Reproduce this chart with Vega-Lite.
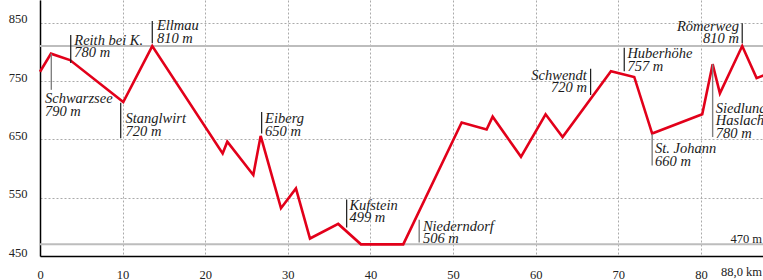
{
  "$schema": "https://vega.github.io/schema/vega-lite/v6.json",
  "autosize": "none",
  "width": 727,
  "height": 256,
  "padding": {"left": 40, "top": 0, "right": 0, "bottom": 24},
  "background": "white",
  "config": {"view": {"stroke": null}, "font": "Liberation Serif"},
  "datasets": {
    "profile": [
      {"km": 0, "elev": 766},
      {"km": 1.33, "elev": 797},
      {"km": 3.63, "elev": 786},
      {"km": 10.08, "elev": 714},
      {"km": 13.59, "elev": 810},
      {"km": 22.11, "elev": 626},
      {"km": 22.67, "elev": 646},
      {"km": 25.82, "elev": 589},
      {"km": 26.71, "elev": 656},
      {"km": 29.17, "elev": 532},
      {"km": 30.98, "elev": 566},
      {"km": 32.68, "elev": 480},
      {"km": 36.1, "elev": 505},
      {"km": 38.85, "elev": 470},
      {"km": 43.97, "elev": 470},
      {"km": 51.04, "elev": 679},
      {"km": 54.06, "elev": 667},
      {"km": 54.79, "elev": 689},
      {"km": 58.22, "elev": 620},
      {"km": 61.2, "elev": 693},
      {"km": 63.26, "elev": 654},
      {"km": 69.11, "elev": 767},
      {"km": 71.93, "elev": 757},
      {"km": 74.1, "elev": 660},
      {"km": 80.16, "elev": 693},
      {"km": 81.42, "elev": 779},
      {"km": 82.3, "elev": 729},
      {"km": 85.0, "elev": 810},
      {"km": 86.74, "elev": 755},
      {"km": 88.0, "elev": 762}
    ],
    "refs": [{"elev": 810, "label": ""}, {"elev": 470, "label": "470 m"}],
    "ends": [{"km": 88, "elev": 450, "label": "88,0 km"}],
    "places": [
      {"name": "Schwarzsee", "text": "Schwarzsee\n790 m", "km": 1.37, "top": 797, "bottom": 735, "lx": 0.6, "ly": 712},
      {"name": "Reith bei K.", "text": "Reith bei K.\n780 m", "km": 3.72, "top": 829, "bottom": 781, "lx": 4.15, "ly": 812},
      {"name": "Ellmau", "text": "Ellmau\n810 m", "km": 13.59, "top": 853, "bottom": 815, "lx": 14.15, "ly": 837},
      {"name": "Stanglwirt", "text": "Stanglwirt\n720 m", "km": 9.77, "top": 713, "bottom": 652, "lx": 10.35, "ly": 678},
      {"name": "Eiberg", "text": "Eiberg\n650 m", "km": 26.83, "top": 697, "bottom": 660, "lx": 27.25, "ly": 678},
      {"name": "Kufstein", "text": "Kufstein\n499 m", "km": 37.12, "top": 547, "bottom": 499, "lx": 37.45, "ly": 529},
      {"name": "Niederndorf", "text": "Niederndorf\n506 m", "km": 45.9, "top": 512, "bottom": 473, "lx": 46.35, "ly": 493},
      {"name": "Schwendt", "text": "Schwendt\n720 m", "km": 66.65, "top": 771, "bottom": 726, "lx": 66.2, "ly": 752},
      {"name": "Huberhöhe", "text": "Huberhöhe\n757 m", "km": 70.72, "top": 807, "bottom": 767, "lx": 71.1, "ly": 789},
      {"name": "Römerweg", "text": "Römerweg\n810 m", "km": 85.0, "top": 849, "bottom": 815, "lx": 84.6, "ly": 836},
      {"name": "St. Johann", "text": "St. Johann\n660 m", "km": 74.1, "top": 659, "bottom": 605, "lx": 74.45, "ly": 626},
      {"name": "Siedlung Haslach", "text": "Siedlung\nHaslach\n780 m", "km": 81.42, "top": 779, "bottom": 654, "lx": 81.8, "ly": 696}
    ]
  },
  "layer": [
    {
      "data": {"name": "refs"},
      "mark": {"type": "rule", "color": "#bdbdbd", "strokeWidth": 2},
      "encoding": {
        "y": {"field": "elev", "type": "quantitative", "title": null}
      }
    },
    {
      "data": {"name": "profile"},
      "mark": {"type": "line", "color": "#e2001a", "strokeWidth": 2.6, "strokeJoin": "miter"},
      "encoding": {
        "x": {
          "field": "km", "type": "quantitative", "title": null,
          "scale": {"domain": [0, 88], "nice": false, "zero": false},
          "axis": {
            "values": [0, 10, 20, 30, 40, 50, 60, 70, 80],
            "grid": true, "gridDash": [2, 2], "gridColor": "#aaaaaa", "gridWidth": 1,
            "ticks": false, "domainColor": "#000000", "domainWidth": 1.5,
            "labelFont": "Liberation Serif", "labelFontSize": 12.5, "labelColor": "#222222",
            "labelPadding": 12, "labelFlush": false
          }
        },
        "y": {
          "field": "elev", "type": "quantitative", "title": null,
          "scale": {"domain": [450, 889], "nice": false, "zero": false},
          "axis": {
            "values": [450, 550, 650, 750, 850],
            "grid": true, "gridDash": [2, 2], "gridColor": "#aaaaaa", "gridWidth": 1,
            "ticks": false, "domainColor": "#000000", "domainWidth": 1.5,
            "labelFont": "Liberation Serif", "labelFontSize": 12.5, "labelColor": "#222222",
            "labelPadding": 13, "labelBaseline": "alphabetic"
          }
        }
      }
    },
    {
      "data": {"name": "places"},
      "transform": [{"filter": {"not": {"field": "name", "oneOf": ["Schwarzsee", "Niederndorf", "St. Johann", "Siedlung Haslach"]}}}],
      "mark": {"type": "rule", "color": "#1a1a1a", "strokeWidth": 1.2},
      "encoding": {
        "x": {"field": "km", "type": "quantitative", "title": null},
        "y": {"field": "top", "type": "quantitative", "title": null},
        "y2": {"field": "bottom"}
      }
    },
    {
      "data": {"name": "places"},
      "transform": [{"filter": {"field": "name", "oneOf": ["Schwarzsee", "Niederndorf", "St. Johann", "Siedlung Haslach"]}}],
      "mark": {"type": "rule", "color": "#808080", "strokeWidth": 1.4},
      "encoding": {
        "x": {"field": "km", "type": "quantitative", "title": null},
        "y": {"field": "top", "type": "quantitative", "title": null},
        "y2": {"field": "bottom"}
      }
    },
    {
      "data": {"name": "places"},
      "transform": [{"filter": {"not": {"field": "name", "oneOf": ["Schwendt", "Römerweg"]}}}],
      "mark": {"type": "text", "align": "left", "baseline": "alphabetic", "font": "Liberation Serif", "fontStyle": "italic", "fontSize": 14.5, "lineBreak": "\n", "lineHeight": 12.5, "color": "#1a1a1a"},
      "encoding": {
        "x": {"field": "lx", "type": "quantitative", "title": null},
        "y": {"field": "ly", "type": "quantitative", "title": null},
        "text": {"field": "text"}
      }
    },
    {
      "data": {"name": "places"},
      "transform": [{"filter": {"field": "name", "oneOf": ["Schwendt", "Römerweg"]}}],
      "mark": {"type": "text", "align": "right", "baseline": "alphabetic", "font": "Liberation Serif", "fontStyle": "italic", "fontSize": 14.5, "lineBreak": "\n", "lineHeight": 12.5, "color": "#1a1a1a"},
      "encoding": {
        "x": {"field": "lx", "type": "quantitative", "title": null},
        "y": {"field": "ly", "type": "quantitative", "title": null},
        "text": {"field": "text"}
      }
    },
    {
      "data": {"name": "refs"},
      "mark": {"type": "text", "align": "right", "baseline": "alphabetic", "font": "Liberation Serif", "fontSize": 12.5, "color": "#222222", "dx": -5, "dy": -1},
      "encoding": {
        "x": {"datum": 88},
        "y": {"field": "elev", "type": "quantitative", "title": null},
        "text": {"field": "label"}
      }
    },
    {
      "data": {"name": "ends"},
      "mark": {"type": "text", "align": "right", "baseline": "alphabetic", "font": "Liberation Serif", "fontSize": 12.5, "color": "#222222", "dx": -5, "dy": 20},
      "encoding": {
        "x": {"field": "km", "type": "quantitative", "title": null},
        "y": {"field": "elev", "type": "quantitative", "title": null},
        "text": {"field": "label"}
      }
    },
    {
      "mark": {"type": "rule", "color": "#000000", "strokeWidth": 8},
      "encoding": {
        "y": {"datum": 889}
      }
    }
  ]
}
